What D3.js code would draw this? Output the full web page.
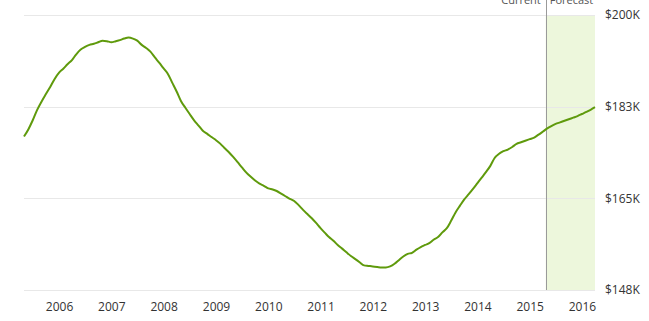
<!DOCTYPE html>
<html>
<head>
<meta charset="utf-8">
<script src="https://cdn.jsdelivr.net/npm/d3@7"></script>
<style>
  html, body { margin: 0; padding: 0; background: #fff; }
  .chart text { font-family: "Open Sans", sans-serif; fill: #333; }
  .grid line { stroke: #e8e8e8; stroke-width: 1; }
  .axis--x .domain, .axis--x line, .axis--y .domain, .axis--y line { display: none; }
</style>
</head>
<body>
<div class="chart"></div>
<script>
    // Monthly home value index, May 2005 .. Apr 2016 (last 12 months are forecast)
    const startMonth = new Date(2005, 4, 1);
    const homeValues = [
      176800, 178200, 179900, 181900, 183500, 184900, 186300, 187800,
      189000, 189800, 190600, 191400, 192500, 193400, 193900, 194300, 194500, 194800, 195100, 195000,
      194800, 195000, 195200, 195500, 195700, 195500, 195100, 194300, 193700, 193000, 191900, 190900,
      189800, 188700, 187100, 185400, 183600, 182300, 181100, 179900, 178900, 177900, 177300, 176700,
      176100, 175400, 174600, 173800, 172900, 171900, 170900, 169900, 169100, 168400, 167800, 167400,
      166900, 166700, 166400, 165900, 165400, 164900, 164500, 163700, 162800, 162000, 161200, 160300,
      159300, 158400, 157600, 156900, 156100, 155400, 154700, 154000, 153400, 152800, 152200, 152100,
      152000, 151900, 151800, 151800, 152000, 152500, 153200, 153900, 154400, 154600, 155200, 155700,
      156100, 156500, 157100, 157600, 158500, 159300, 160700, 162300, 163600, 164800, 165800, 166800,
      167900, 169000, 170000, 171200, 172700, 173500, 174000, 174300, 174800, 175400, 175700, 176000,
      176300, 176600, 177100, 177700, 178300, 178800, 179200, 179500, 179800, 180100, 180400, 180700,
      181100, 181500, 181900, 182400
    ];
    const currentDate = new Date(2015, 3, 23);
    const yearTicks = [2006, 2007, 2008, 2009, 2010, 2011, 2012, 2013, 2014, 2015, 2016];
    const valueTicks = [147500, 165000, 182500, 200000];
    const valueLabels = ['$148K', '$165K', '$183K', '$200K'];

    const margin = {top: 15, right: 54, bottom: 31, left: 24};
    const width = 649 - margin.left - margin.right;
    const height = 321 - margin.top - margin.bottom;

    const data = homeValues.map((v, i) => ({
      date: d3.timeMonth.offset(startMonth, i),
      value: v,
    }));

    const xScale = d3.scaleTime()
        .domain(d3.extent(data, d => d.date))
        .range([0, width]);

    const yScale = d3.scaleLinear()
        .domain([valueTicks[0], valueTicks[valueTicks.length - 1]])
        .range([height, 0]);

    const svg = d3.select('.chart').append('svg')
        .attr('width', 649)
        .attr('height', 321)
      .append('g')
        .attr('transform', `translate(${margin.left},${margin.top})`);

    const currentX = xScale(currentDate);

    // forecast band sits under everything else
    svg.append('rect')
        .attr('x', currentX)
        .attr('y', 0)
        .attr('width', width - currentX)
        .attr('height', height)
        .attr('fill', '#edf7dc');

    // horizontal gridlines (the lowest one doubles as the x baseline)
    svg.append('g')
        .attr('class', 'grid')
      .selectAll('line')
      .data(valueTicks)
      .enter().append('line')
        .attr('x1', 0)
        .attr('x2', width)
        .attr('y1', d => Math.round(yScale(d)) + 0.5)
        .attr('y2', d => Math.round(yScale(d)) + 0.5);

    // y axis on the right, labels only
    svg.append('g')
        .attr('class', 'axis axis--y')
        .attr('transform', `translate(${width},0)`)
        .call(d3.axisRight(yScale)
          .tickValues(valueTicks)
          .tickSize(0)
          .tickPadding(10)
          .tickFormat((d, i) => valueLabels[i]))
        .selectAll('text')
          .style('font-size', '12px');

    // x axis, one label per year at Jan 1
    svg.append('g')
        .attr('class', 'axis axis--x')
        .attr('transform', `translate(0,${height})`)
        .call(d3.axisBottom(xScale)
          .tickValues(yearTicks.map(y => new Date(y, 0, 1)))
          .tickSize(0)
          .tickPadding(12)
          .tickFormat(d3.timeFormat('%Y')))
        .selectAll('text')
          .style('font-size', '12px');

    // current / forecast divider
    svg.append('line')
        .attr('x1', Math.round(currentX) + 0.5)
        .attr('x2', Math.round(currentX) + 0.5)
        .attr('y1', -margin.top)
        .attr('y2', height)
        .attr('stroke', '#9a9a9a')
        .attr('stroke-width', 1);

    svg.append('text')
        .attr('x', currentX - 5)
        .attr('y', -11)
        .attr('text-anchor', 'end')
        .style('font-size', '11px')
        .style('fill', '#555')
        .text('Current');

    svg.append('text')
        .attr('x', currentX + 4)
        .attr('y', -11)
        .style('font-size', '11px')
        .style('fill', '#555')
        .text('Forecast');

    const line = d3.line()
        .x(d => xScale(d.date))
        .y(d => yScale(d.value))
        .curve(d3.curveMonotoneX);

    svg.append('path')
        .datum(data)
        .attr('fill', 'none')
        .attr('stroke', '#5f9a0c')
        .attr('stroke-width', 2)
        .attr('stroke-linejoin', 'round')
        .attr('d', line);
</script>
</body>
</html>
